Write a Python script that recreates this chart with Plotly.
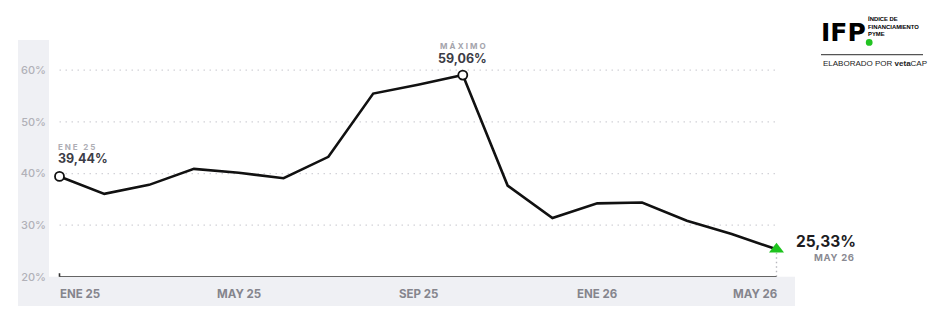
import plotly.graph_objects as go

W, H = 940, 329
H_EFF = 321  # effective rendered height observed in the photographed page

# ---- data ----
months = ["ENE 25", "FEB 25", "MAR 25", "ABR 25", "MAY 25", "JUN 25", "JUL 25", "AGO 25",
          "SEP 25", "OCT 25", "NOV 25", "DIC 25", "ENE 26", "FEB 26", "MAR 26", "ABR 26", "MAY 26"]
values = [39.44, 36.06, 37.81, 40.91, 40.14, 39.09, 43.24, 55.48,
          57.2, 59.06, 37.67, 31.4, 34.23, 34.4, 30.87, 28.3, 25.33]
y_ticks = [20, 30, 40, 50, 60]
y_tick_text = ["20%", "30%", "40%", "50%", "60%"]
x_tick_labels = ["ENE 25", "MAY 25", "SEP 25", "ENE 26", "MAY 26"]

def fmt(v):
    return f"{v:.2f}".replace(".", ",") + "%"

def spaced(t, ls):
    return f'<span style="letter-spacing:{ls}px">{t}</span>'

xi = list(range(len(months)))
first_i = 0
last_i = len(values) - 1
max_i = max(xi, key=lambda i: values[i])

def px(x):
    return x / W

def py(y):
    return 1 - y / H_EFF

FONT = "Inter"
GRAY_BG = "#eff0f4"

fig = go.Figure()

fig.add_trace(go.Scatter(
    x=xi, y=values, mode="lines",
    line=dict(color="#111111", width=2.6),
    hoverinfo="skip", showlegend=False, cliponaxis=False,
))
fig.add_trace(go.Scatter(
    x=[xi[first_i], xi[max_i]], y=[values[first_i], values[max_i]], mode="markers",
    marker=dict(symbol="circle", size=9, color="white", line=dict(color="#111111", width=1.8)),
    showlegend=False, cliponaxis=False,
))
fig.add_trace(go.Scatter(
    x=[xi[last_i]], y=[values[last_i]], mode="markers",
    marker=dict(symbol="triangle-up", size=13, color="#1ec31e"),
    showlegend=False, cliponaxis=False,
))

shapes = []
shapes.append(dict(type="rect", xref="paper", yref="paper", x0=px(18), x1=px(49), y0=py(305), y1=py(40),
                   fillcolor=GRAY_BG, line=dict(width=0), layer="below"))
shapes.append(dict(type="rect", xref="paper", yref="paper", x0=px(49), x1=px(795), y0=py(305), y1=py(276),
                   fillcolor=GRAY_BG, line=dict(width=0), layer="below"))
for t in y_ticks[1:]:
    shapes.append(dict(type="line", xref="x", yref="y", x0=xi[0], x1=xi[-1], y0=t, y1=t,
                       line=dict(color="#d2d2d8", width=1.3, dash="1.5px,4.5px"), layer="below"))
shapes.append(dict(type="line", xref="x", yref="y", x0=xi[0], x1=xi[-1], y0=y_ticks[0], y1=y_ticks[0],
                   line=dict(color="#333333", width=1.6), layer="above"))
shapes.append(dict(type="line", xref="x", yref="y", x0=xi[0], x1=xi[0], ysizemode="pixel",
                   yanchor=y_ticks[0], y0=-3.5, y1=3.5, line=dict(color="#333333", width=1.6)))
shapes.append(dict(type="line", xref="x", yref="y", x0=xi[last_i], x1=xi[last_i],
                   y0=y_ticks[0], y1=values[last_i],
                   line=dict(color="#b8b8be", width=1.4, dash="1.5px,3px"), layer="below"))
shapes.append(dict(type="line", xref="paper", yref="paper", x0=px(821), x1=px(923), y0=py(54.5), y1=py(54.5),
                   line=dict(color="#555555", width=1.2)))
shapes.append(dict(type="circle", xref="paper", yref="paper", x0=px(865.8), x1=px(872.6), y0=py(45.7), y1=py(38.9),
                   fillcolor="#22c322", line=dict(width=0)))

annotations = []
for lab in x_tick_labels:
    i = months.index(lab)
    anchor = "left" if i == 0 else ("right" if i == len(months) - 1 else "center")
    shift = -2 if i == 0 else (2 if i == len(months) - 1 else 0)
    annotations.append(dict(x=i, xref="x", y=py(293), yref="paper", text=lab, showarrow=False,
                            xanchor=anchor, yanchor="middle", xshift=shift,
                            font=dict(family=FONT, size=11.5, color="#85858d", weight="bold")))

annotations.append(dict(x=xi[first_i], xref="x", y=values[first_i], yref="y",
                        text=spaced(months[first_i], 1.9),
                        showarrow=False, xanchor="left", yanchor="middle", xshift=-4, yshift=29,
                        font=dict(family=FONT, size=8, color="#aeaeb5", weight="bold")))
annotations.append(dict(x=xi[first_i], xref="x", y=values[first_i], yref="y", text=fmt(values[first_i]),
                        showarrow=False, xanchor="left", yanchor="middle", xshift=-4, yshift=18,
                        font=dict(family=FONT, size=12.5, color="#3c3c46", weight="bold")))
annotations.append(dict(x=xi[max_i], xref="x", y=values[max_i], yref="y", text=spaced("MÁXIMO", 2.1),
                        showarrow=False, xanchor="center", yanchor="middle", yshift=29.5, xshift=1,
                        font=dict(family=FONT, size=8, color="#a4a4ac", weight="bold")))
annotations.append(dict(x=xi[max_i], xref="x", y=values[max_i], yref="y", text=fmt(values[max_i]),
                        showarrow=False, xanchor="center", yanchor="middle", yshift=17,
                        font=dict(family=FONT, size=12.5, color="#3c3c46", weight="bold")))
annotations.append(dict(x=xi[last_i], xref="x", y=values[last_i], yref="y", text=fmt(values[last_i]),
                        showarrow=False, xanchor="right", yanchor="middle", xshift=81, yshift=8,
                        font=dict(family=FONT, size=15.5, color="#1d1d1f", weight="bold")))
annotations.append(dict(x=xi[last_i], xref="x", y=values[last_i], yref="y", text=spaced(months[last_i], 0.7),
                        showarrow=False, xanchor="right", yanchor="middle", xshift=80, yshift=-8,
                        font=dict(family=FONT, size=9.5, color="#8a8a92", weight="bold")))

annotations.append(dict(x=px(819), xref="paper", y=py(32.5), yref="paper", text="IFP", showarrow=False,
                        xanchor="left", yanchor="middle",
                        font=dict(family="DejaVu Sans", size=25, color="#000000", weight="bold")))
annotations.append(dict(x=px(866), xref="paper", y=py(25.5), yref="paper",
                        text="ÍNDICE DE<br>FINANCIAMIENTO<br>PYME", showarrow=False,
                        xanchor="left", yanchor="middle", align="left",
                        font=dict(family="Liberation Sans", size=5.9, color="#000000", weight="bold")))
annotations.append(dict(x=px(821), xref="paper", y=py(63.5), yref="paper",
                        text="ELABORADO POR <b>veta</b>CAP", showarrow=False,
                        xanchor="left", yanchor="middle",
                        font=dict(family="Liberation Sans", size=8, color="#222222")))

n = len(months)
x_left_px, x_right_px = 49, 795
first_px, last_px = 59.5, 776.5
unit = (last_px - first_px) / (n - 1)
x_range = [-(first_px - x_left_px) / unit, (n - 1) + (x_right_px - last_px) / unit]
y_top_px, y_bot_px = 40, 276
y_unit = 5.15
y_range = [y_ticks[0], y_ticks[0] + (y_bot_px - y_top_px) / y_unit]

fig.update_layout(
    width=W, height=H,
    margin=dict(l=0, r=0, t=0, b=0),
    paper_bgcolor="white", plot_bgcolor="white",
    showlegend=False,
    xaxis=dict(domain=[px(x_left_px), px(x_right_px)], range=x_range, showgrid=False, zeroline=False,
               showticklabels=False, showline=False, fixedrange=True),
    yaxis=dict(domain=[py(y_bot_px), py(y_top_px)], range=y_range, showgrid=False, zeroline=False,
               tickvals=y_ticks, ticktext=y_tick_text, ticks="", ticklabelstandoff=2,
               tickfont=dict(family=FONT, size=11, color="#b1b1b8", weight=500), showline=False,
               fixedrange=True),
    shapes=shapes,
    annotations=annotations,
)

fig.write_html("out.html")
